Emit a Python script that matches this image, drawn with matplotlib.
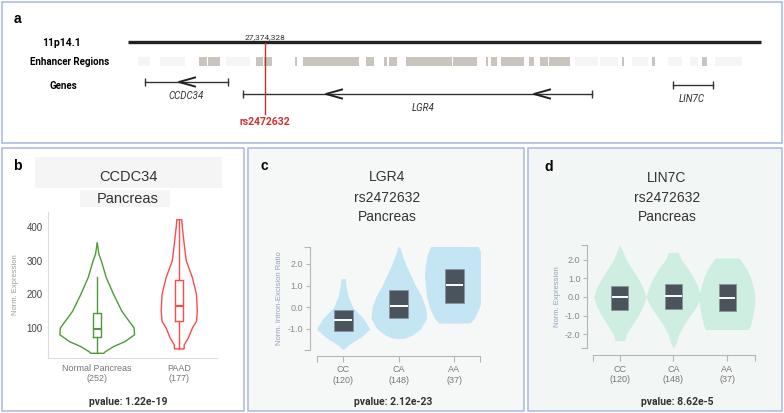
import numpy as np
import matplotlib
matplotlib.use('Agg')
import matplotlib.pyplot as plt
from matplotlib.patches import Rectangle
from matplotlib.ticker import FixedLocator

W, H = 784, 413

# ---- panel a: locus track (positions in track units) ----
chrom_band = '11p14.1'
chrom_span = [128, 761]
snp_id = 'rs2472632'
snp_coord = '27,374,328'
snp_x = 265
enh_start = [199, 208, 256, 264, 295, 303, 366, 384, 389, 406, 453, 486, 491, 501, 529, 540, 549, 622, 652, 702]
enh_end = [207, 220, 263, 272, 297, 359, 374, 387, 397, 452, 477, 488, 497, 524, 534, 548, 570, 624, 655, 707]
faint_start = [138, 160, 226, 330, 575, 600, 632, 668, 690, 715]
faint_end = [150, 185, 250, 340, 598, 618, 648, 682, 698, 742]
gene_names = ['CCDC34', 'LGR4', 'LIN7C']
gene_start = [145, 243, 673]
gene_end = [228, 592, 713]
gene_row = [82, 94, 85]
gene_label_x = [186, 423, 692]
gene_arrows = [[179], [326, 534], []]

# ---- panel b: CCDC34 expression ----
b_groups = ['Normal Pancreas', 'PAAD']
b_counts = [252, 177]
b_colors = ['#4f9a38', '#ff4a4a']
b_shape_y = [
    [25, 25, 30, 45, 60, 80, 100, 120, 150, 200, 250, 300, 320, 355],
    [38, 38, 50, 70, 100, 120, 150, 200, 250, 300, 350, 400, 422, 422],
]
b_shape_hw = [
    [0, 0.08, 0.10, 0.20, 0.34, 0.455, 0.45, 0.39, 0.30, 0.20, 0.11, 0.05, 0.02, 0],
    [0, 0.06, 0.06, 0.11, 0.16, 0.21, 0.22, 0.21, 0.16, 0.085, 0.06, 0.037, 0.03, 0],
]
b_whislo = [25, 38]
b_q1 = [72, 120]
b_med = [98, 167]
b_q3 = [145, 243]
b_whishi = [252, 420]
b_pvalue = '1.22e-19'

# ---- panel c: LGR4 sQTL ----
geno = ['CC', 'CA', 'AA']
geno_counts = [120, 148, 37]
c_shape_y = [
    [-1.95, -1.75, -1.35, -1.0, -0.5, 0.0, 0.5, 1.0, 1.32, 1.32],
    [-1.45, -1.43, -1.3, -1.0, -0.5, 0.0, 0.5, 1.0, 1.5, 2.0, 2.5, 2.78],
    [-0.73, -0.72, -0.5, 0.0, 0.5, 1.0, 1.5, 2.0, 2.5, 2.9, 2.9],
]
c_shape_hw = [
    [0, 0.09, 0.33, 0.48, 0.36, 0.17, 0.09, 0.05, 0.04, 0],
    [0, 0.10, 0.23, 0.39, 0.50, 0.48, 0.41, 0.30, 0.21, 0.12, 0.05, 0.02],
    [0, 0.28, 0.36, 0.45, 0.50, 0.52, 0.54, 0.52, 0.48, 0.41, 0],
]
c_q1 = [-1.11, -0.49, 0.20]
c_med = [-0.57, 0.05, 1.05]
c_q3 = [-0.11, 0.78, 1.78]
c_pvalue = '2.12e-23'

# ---- panel d: LIN7C eQTL ----
d_shape_y = [
    [-2.35, -2.35, -2.0, -1.5, -1.0, -0.5, 0.0, 0.5, 1.0, 1.5, 2.0, 2.5, 2.8],
    [-2.75, -2.5, -2.0, -1.5, -1.0, -0.5, 0.0, 0.5, 1.0, 1.5, 2.0, 2.4, 2.4],
    [-1.75, -1.75, -1.5, -1.0, -0.5, 0.0, 0.5, 1.0, 1.5, 2.1, 2.1],
]
d_shape_hw = [
    [0, 0.09, 0.12, 0.23, 0.34, 0.43, 0.49, 0.43, 0.34, 0.23, 0.12, 0.05, 0],
    [0, 0.05, 0.10, 0.19, 0.31, 0.43, 0.51, 0.46, 0.38, 0.28, 0.15, 0.09, 0],
    [0, 0.40, 0.44, 0.48, 0.51, 0.52, 0.49, 0.44, 0.37, 0.22, 0],
]
d_q1 = [-0.68, -0.63, -0.77]
d_med = [0.0, 0.04, -0.04]
d_q3 = [0.57, 0.70, 0.70]
d_pvalue = '8.62e-5'

SANS = 'Liberation Sans'
ROB = 'Roboto'
BORDER = '#a9b8e2'
BOXC = '#4b535d'

fig = plt.figure(figsize=(W / 100, H / 100), dpi=100)


def px_axes(x0, y0, x1, y1):
    return fig.add_axes([x0 / W, 1 - y1 / H, (x1 - x0) / W, (y1 - y0) / H],
                        facecolor='none', zorder=2)


ov = fig.add_axes([0, 0, 1, 1], zorder=0)
ov.set_xlim(0, W)
ov.set_ylim(H, 0)
ov.axis('off')

# panel frames
for (x0, y0, x1, y1, bg) in [(2, 2, 782, 143, 'white'), (2, 148, 244, 411, 'white'),
                             (248, 148, 524, 411, '#f6f7f7'), (528, 148, 782, 411, '#f2f6f5')]:
    ov.add_patch(Rectangle((x0, y0), x1 - x0, y1 - y0, fc=bg, ec=BORDER, lw=1.1))

for s, x, y in [('a', 17, 19), ('b', 17, 166), ('c', 264, 166), ('d', 549, 167)]:
    ov.text(x, y, s, ha='center', va='center', fontsize=10, fontweight='bold', family=SANS)

# ---------- panel a ----------
ov.plot(chrom_span, [42, 42], color='#222222', lw=2.4, solid_capstyle='butt')
ov.broken_barh([(s, e - s) for s, e in zip(faint_start, faint_end)], (57, 9), facecolors='#f5f5f4')
ov.broken_barh([(s, e - s) for s, e in zip(enh_start, enh_end)], (57, 9), facecolors='#c9c5be')
for name, s, e, y, lx, arrows in zip(gene_names, gene_start, gene_end, gene_row, gene_label_x, gene_arrows):
    ov.plot([s, e], [y, y], color='#333333', lw=1, marker='|', ms=6, mew=1)
    for a in arrows:
        ov.plot([a + 16, a, a + 16], [y - 4.5, y, y + 4.5], color='#222222', lw=1.4)
    ov.text(lx, y + 14, name, ha='center', va='center', fontsize=7, style='italic',
            family=ROB, color='#333333')
ov.plot([snp_x, snp_x], [43, 114], color='#c8302c', lw=1)
ov.text(snp_x, 37, snp_coord, ha='center', va='center', fontsize=6, family=ROB, color='#333333')
ov.text(snp_x, 122, snp_id, ha='center', va='center', fontsize=7.5, family=ROB,
        fontweight='bold', color='#d0312d')
ov.text(62, 43, chrom_band, ha='center', va='center', fontsize=7.5, family=ROB, fontweight='bold')
ov.text(70, 62, 'Enhancer Regions', ha='center', va='center', fontsize=7, family=ROB, fontweight='bold')
ov.text(63, 86, 'Genes', ha='center', va='center', fontsize=7, family=ROB, fontweight='bold')


def style_d3(ax, xlim, ylim, yticks, ylabel):
    ax.set_xlim(*xlim)
    ax.set_ylim(*ylim)
    for sp in ['top', 'right']:
        ax.spines[sp].set_visible(False)
    for sp in ['left', 'bottom']:
        ax.spines[sp].set_color('#b5b5b5')
        ax.spines[sp].set_linewidth(0.8)
    ax.set_xticks(range(len(geno)))
    ax.set_xticklabels([f'{g}\n({n})' for g, n in zip(geno, geno_counts)], linespacing=1.5)
    ax.set_yticks(yticks)
    ax.set_yticklabels([f'{t:.1f}' for t in yticks])
    ax.xaxis.set_minor_locator(FixedLocator(list(xlim)))
    ax.yaxis.set_minor_locator(FixedLocator(list(ylim)))
    ax.tick_params(which='both', color='#b5b5b5', width=0.8, labelsize=6.5,
                   labelfontfamily=SANS)
    ax.tick_params(axis='x', which='major', length=4, pad=3, labelcolor='#777777')
    ax.tick_params(axis='y', which='major', length=3, pad=2, labelcolor='#888888')
    ax.tick_params(which='minor', length=4)
    ax.set_ylabel(ylabel, fontsize=5.5, color='#93a3bd', family=SANS, labelpad=3)


def filled_violins(ax, ys, hws, q1, med, q3, color, bw):
    for i, (y, hw) in enumerate(zip(ys, hws)):
        y = np.array(y)
        hw = np.array(hw)
        ax.fill_betweenx(y, i - hw, i + hw, color=color, lw=0, zorder=1)
    pos = np.arange(len(q1))
    ax.bar(pos, np.array(q3) - np.array(q1), bottom=q1, width=bw, color=BOXC,
           edgecolor='#8b9099', lw=0.5, zorder=2)
    ax.hlines(med, pos - bw / 2 + 0.01, pos + bw / 2 - 0.01, color='white', lw=1.4, zorder=3)


# ---------- panel b ----------
ov.add_patch(Rectangle((35, 157), 187, 31, fc='#f5f5f5', ec='none'))
ov.add_patch(Rectangle((80, 190), 90, 17, fc='#f5f5f5', ec='none'))
ov.text(128, 177, 'CCDC34', ha='center', va='center', fontsize=10.5, family=SANS, color='#333333')
ov.text(128, 199, 'Pancreas', ha='center', va='center', fontsize=10.5, family=SANS, color='#333333')

axb = px_axes(48, 212, 217, 358)
for i, (y, hw, c) in enumerate(zip(b_shape_y, b_shape_hw, b_colors)):
    y = np.array(y)
    hw = np.array(hw)
    axb.fill(np.r_[i - hw, (i + hw)[::-1]], np.r_[y, y[::-1]], facecolor='none', edgecolor=c, lw=1)
stats = [dict(whislo=lo, q1=a, med=m, q3=b, whishi=hi)
         for lo, a, m, b, hi in zip(b_whislo, b_q1, b_med, b_q3, b_whishi)]
bp = axb.bxp(stats, positions=[0, 1], widths=0.1, showfliers=False, showcaps=False)
for k, c in enumerate(b_colors):
    bp['boxes'][k].set(color=c, lw=1)
    bp['medians'][k].set(color=c, lw=1.5)
    for w in bp['whiskers'][2 * k:2 * k + 2]:
        w.set(color=c, lw=1)
axb.set_xlim(-0.6, 1.46)
axb.set_ylim(11, 445)
axb.set_yticks([100, 200, 300, 400])
axb.set_xticks([0, 1])
axb.set_xticklabels([f'{g}\n({n})' for g, n in zip(b_groups, b_counts)])
axb.tick_params(length=0, pad=4, labelfontfamily=SANS)
axb.tick_params(axis='x', labelsize=6.5, labelcolor='#777777')
axb.tick_params(axis='y', labelsize=7, labelcolor='#444444')
for sp in ['top', 'right']:
    axb.spines[sp].set_visible(False)
for sp in ['left', 'bottom']:
    axb.spines[sp].set_color('#dddddd')
axb.set_ylabel('Norm. Expression', fontsize=5.5, color='#9a9a9a', family=SANS, labelpad=5)
ov.text(128, 402, f'pvalue: {b_pvalue}', ha='center', va='center', fontsize=7.5,
        family=ROB, fontweight='bold', color='#333333')

# ---------- panel c ----------
for s, y in [('LGR4', 177), ('rs2472632', 198), ('Pancreas', 217)]:
    ov.text(387, y, s, ha='center', va='center', fontsize=10, family=SANS, color='#333333')
axc = px_axes(317, 247, 480, 350)
filled_violins(axc, c_shape_y, c_shape_hw, c_q1, c_med, c_q3, '#c4e5f4', 0.34)
style_d3(axc, (-0.47, 2.46), (-1.97, 2.78), [-1.0, 0.0, 1.0, 2.0], 'Norm. Intron-Excision Ratio')
axc.spines['left'].set_position(('outward', 5))
axc.spines['bottom'].set_position(('outward', 4))
ov.text(393, 402, f'pvalue: {c_pvalue}', ha='center', va='center', fontsize=7.5,
        family=ROB, fontweight='bold', color='#333333')

# ---------- panel d ----------
for s, y in [('LIN7C', 178), ('rs2472632', 198), ('Pancreas', 217)]:
    ov.text(667, y, s, ha='center', va='center', fontsize=10, family=SANS, color='#333333')
axd = px_axes(593, 245, 755, 348)
filled_violins(axd, d_shape_y, d_shape_hw, d_q1, d_med, d_q3, '#cdeee1', 0.32)
style_d3(axd, (-0.5, 2.52), (-2.75, 2.8), [-2.0, -1.0, 0.0, 1.0, 2.0], 'Norm. Expression')
axd.spines['left'].set_position(('outward', 4))
axd.spines['bottom'].set_position(('outward', 5))
ov.text(677, 402, f'pvalue: {d_pvalue}', ha='center', va='center', fontsize=7.5,
        family=ROB, fontweight='bold', color='#333333')

fig.savefig('out.png', dpi=100)
